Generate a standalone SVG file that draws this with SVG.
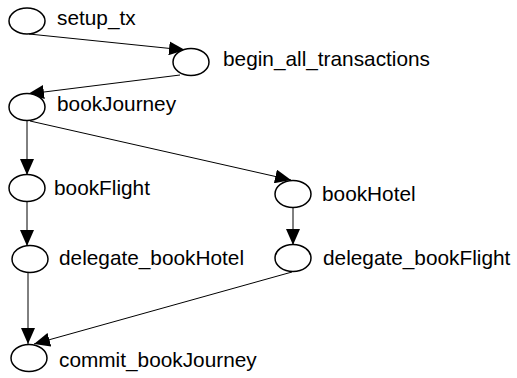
<svg xmlns="http://www.w3.org/2000/svg" width="517" height="378" viewBox="0 0 517 378">
<style>
.n ellipse{fill:#fff;stroke:#000;stroke-width:1.5}
.n text{font-family:"Liberation Sans",Arial,sans-serif;font-size:20.8px;fill:#000}
.e line{stroke:#000;stroke-width:1}
</style>
<defs>
<marker id="ah" markerWidth="16" markerHeight="14" refX="16" refY="7" orient="auto" markerUnits="userSpaceOnUse">
<path d="M0,0 L16,7 L0,14 Z" fill="#000"/>
</marker>
</defs>
<rect width="517" height="378" fill="#fff"/>
<g class="e">
<line x1="29" y1="34" x2="185" y2="50" marker-end="url(#ah)"/>
<line x1="180" y1="75" x2="28" y2="94" marker-end="url(#ah)"/>
<line x1="27" y1="120" x2="27" y2="175" marker-end="url(#ah)"/>
<line x1="30" y1="121" x2="291" y2="180" marker-end="url(#ah)"/>
<line x1="27" y1="201" x2="27" y2="246" marker-end="url(#ah)"/>
<line x1="293" y1="208" x2="293" y2="245" marker-end="url(#ah)"/>
<line x1="28" y1="272" x2="28" y2="344" marker-end="url(#ah)"/>
<line x1="292" y1="272" x2="34" y2="344" marker-end="url(#ah)"/>
</g>
<g id="setup_tx" class="n"><ellipse cx="27" cy="21" rx="18" ry="13"/><text x="57" y="25">setup_tx</text></g>
<g id="begin_all_transactions" class="n"><ellipse cx="191" cy="62" rx="18" ry="13.5"/><text x="223" y="66">begin_all_transactions</text></g>
<g id="bookJourney" class="n"><ellipse cx="27" cy="107" rx="18" ry="13.5"/><text x="57" y="111">bookJourney</text></g>
<g id="bookFlight" class="n"><ellipse cx="27" cy="188" rx="18" ry="13.5"/><text x="54" y="195">bookFlight</text></g>
<g id="bookHotel" class="n"><ellipse cx="293" cy="194" rx="18" ry="13.5"/><text x="322" y="201">bookHotel</text></g>
<g id="delegate_bookHotel" class="n"><ellipse cx="30" cy="259" rx="18" ry="13.5"/><text x="59" y="265">delegate_bookHotel</text></g>
<g id="delegate_bookFlight" class="n"><ellipse cx="293" cy="258" rx="18" ry="13.5"/><text x="323" y="265">delegate_bookFlight</text></g>
<g id="commit_bookJourney" class="n"><ellipse cx="29" cy="358" rx="18" ry="13.5"/><text x="59" y="367">commit_bookJourney</text></g>
</svg>
